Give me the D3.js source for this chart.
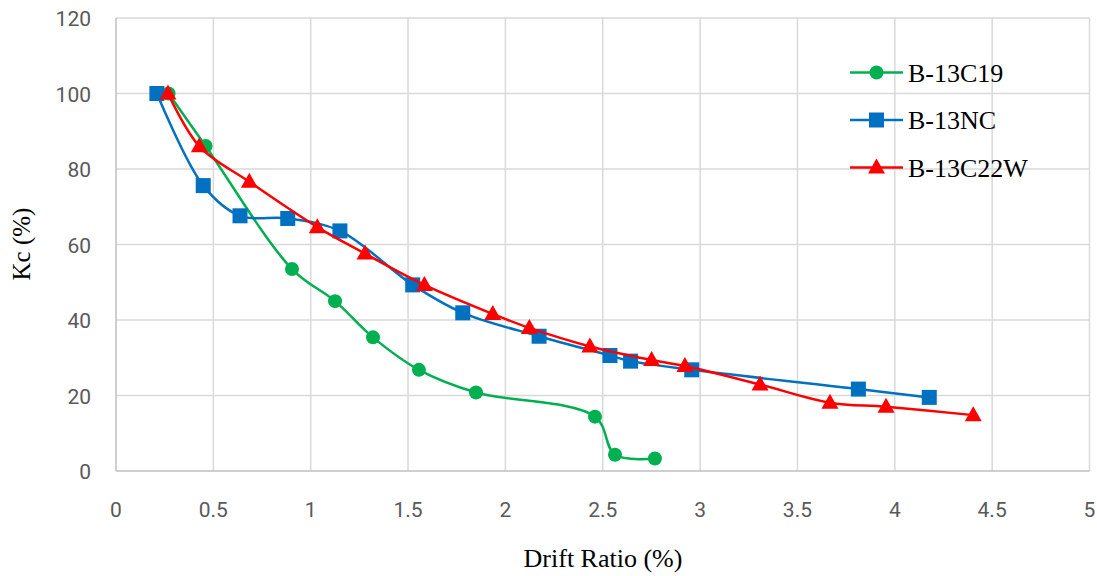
<!DOCTYPE html>
<html><head><meta charset="utf-8">
<script src="https://cdn.jsdelivr.net/npm/d3@7"></script>
<style>body{margin:0;background:#fff}</style>
</head><body>
<svg id="c" width="1097" height="576"></svg>
<script>
const xTicks = [0,0.5,1,1.5,2,2.5,3,3.5,4,4.5,5];
const yTicks = [0,20,40,60,80,100,120];
const seriesNames = ["B-13C19","B-13NC","B-13C22W"];
const c19X = [0.27,0.46,0.904,1.125,1.32,1.556,1.849,2.46,2.563,2.768];
const c19Y = [100,86.1,53.5,45.0,35.4,26.8,20.8,14.4,4.3,3.3];
const ncX = [0.21,0.448,0.637,0.882,1.150,1.524,1.781,2.173,2.537,2.643,2.957,3.813,4.177];
const ncY = [100,75.6,67.6,66.9,63.6,49.3,41.9,35.7,30.6,29.1,26.8,21.7,19.5];
const c22X = [0.267,0.428,0.685,1.034,1.279,1.584,1.935,2.123,2.434,2.751,2.922,3.308,3.667,3.955,4.403];
const c22Y = [100,86.0,76.6,64.6,57.6,49.3,41.6,37.9,33.0,29.4,27.8,22.9,18.1,17.0,14.8];
const colors = ["#00b050","#0070c0","#ff0000"];
const shapes = ["circle","square","triangle"];

const svg = d3.select("#c");
const x = d3.scaleLinear().domain([0,5]).range([116,1089.5]);
const y = d3.scaleLinear().domain([0,120]).range([471,18]);

// gridlines
svg.append("g").selectAll("line").data(xTicks.slice(1)).join("line")
  .attr("x1",d=>x(d)).attr("x2",d=>x(d)).attr("y1",y(0)).attr("y2",y(120))
  .attr("stroke","#d9d9d9").attr("stroke-width",1.5);
svg.append("g").selectAll("line").data(yTicks.slice(1)).join("line")
  .attr("x1",x(0)).attr("x2",x(5)).attr("y1",d=>y(d)).attr("y2",d=>y(d))
  .attr("stroke","#d9d9d9").attr("stroke-width",1.5);
// axes lines
svg.append("line").attr("x1",x(0)).attr("x2",x(0)).attr("y1",y(0)).attr("y2",y(120)).attr("stroke","#bfbfbf").attr("stroke-width",1.5);
svg.append("line").attr("x1",x(0)).attr("x2",x(5)).attr("y1",y(0)).attr("y2",y(0)).attr("stroke","#bfbfbf").attr("stroke-width",1.5);

const tickFont = "Roboto, 'Liberation Sans', sans-serif";
svg.append("g").selectAll("text").data(xTicks).join("text")
  .attr("x",d=>x(d)).attr("y",517).attr("text-anchor","middle")
  .attr("font-family",tickFont).attr("font-size",21).attr("fill","#595959")
  .text(d=>d);
svg.append("g").selectAll("text").data(yTicks).join("text")
  .attr("x",91).attr("y",d=>y(d)+8).attr("text-anchor","end")
  .attr("font-family",tickFont).attr("font-size",21).attr("fill","#595959")
  .text(d=>d);

const serif = "'Liberation Serif','Times New Roman',serif";
svg.append("text").attr("x",603).attr("y",567).attr("text-anchor","middle")
  .attr("font-family",serif).attr("font-size",26).attr("fill","#000").text("Drift Ratio (%)");
svg.append("text").attr("transform","translate(30,244) rotate(-90)").attr("text-anchor","middle")
  .attr("font-family",serif).attr("font-size",25).attr("fill","#000").text("Kc (%)");

const data = [
  c19X.map((v,i)=>[v,c19Y[i]]),
  ncX.map((v,i)=>[v,ncY[i]]),
  c22X.map((v,i)=>[v,c22Y[i]])
];
const line = d3.line().x(d=>x(d[0])).y(d=>y(d[1])).curve(d3.curveCatmullRom.alpha(0.5));

function marker(g, shape, cx, cy, color){
  if(shape==="circle") g.append("circle").attr("cx",cx).attr("cy",cy).attr("r",7).attr("fill",color);
  else if(shape==="square") g.append("rect").attr("x",cx-7.5).attr("y",cy-7.5).attr("width",15).attr("height",15).attr("fill",color);
  else g.append("path").attr("d",`M${cx},${cy-9}L${cx+8.5},${cy+6}L${cx-8.5},${cy+6}Z`).attr("fill",color);
}

[0,1,2].forEach(i=>{
  const g = svg.append("g");
  g.append("path").attr("d",line(data[i])).attr("fill","none").attr("stroke",colors[i]).attr("stroke-width",2.5);
  data[i].forEach(d=>marker(g,shapes[i],x(d[0]),y(d[1]),colors[i]));
});

// legend
const legY = [72.5,120,167.5];
seriesNames.forEach((n,i)=>{
  const g = svg.append("g");
  g.append("line").attr("x1",850).attr("x2",903).attr("y1",legY[i]).attr("y2",legY[i]).attr("stroke",colors[i]).attr("stroke-width",2.5);
  marker(g,shapes[i],876.5,legY[i],colors[i]);
  g.append("text").attr("x",908).attr("y",legY[i]+9).attr("font-family",serif).attr("font-size",26).attr("fill","#000").text(n);
});
</script>
</body></html>
